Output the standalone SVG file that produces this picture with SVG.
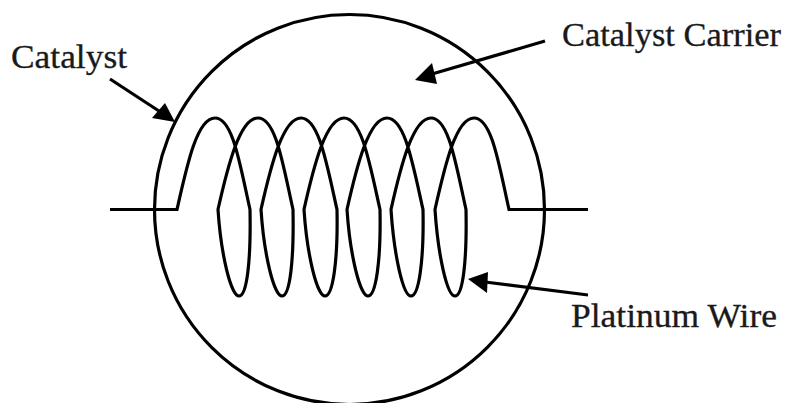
<svg xmlns="http://www.w3.org/2000/svg" width="791" height="403" viewBox="0 0 791 403">
<style>
.w{fill:none;stroke:#000;stroke-width:3.2}
.h{fill:#000}
text{font-family:"Liberation Serif",serif;font-size:33px;fill:#1a1a1a;stroke:#1a1a1a;stroke-width:.3}
</style>
<rect width="791" height="403" fill="#fff"/>
<g id="catalyst-carrier-body"><circle class="w" cx="349.5" cy="209.5" r="195"/></g>
<g id="platinum-wire"><path class="w" d="M110 209.5H177C187 165 197 118 215 118C233 118 240 165 250 209.5C251 260 247 296 239 296C231 296 221 255 218 209.5C228 165 240 118 258 118C276 118 283 165 293 209.5C294 260 290 296 282 296C274 296 264 255 261 209.5C271 165 283 118 301 118C319 118 327 165 337 209.5C338 260 333 296 325 296C317 296 307 255 304 209.5C314 165 326 118 344 118C362 118 370 165 380 209.5C381 260 376 296 368 296C360 296 350 255 347 209.5C357 165 369 118 387 118C405 118 413 165 423 209.5C424 260 419 296 411 296C403 296 394 255 391 209.5C401 165 413 118 431 118C449 118 456 165 466 209.5C467 260 463 296 455 296C447 296 438 255 435 209.5C445 165 456 118 474 118C492 118 499 165 509 209.5H588"/></g>
<g id="connectors">
<path class="w" d="M110 79L162 113"/><path class="h" d="M175 122L152 118L165 103Z"/>
<path class="w" d="M545 41L432 74"/><path class="h" d="M415 80L432 63L437 84Z"/>
<path class="w" d="M588 295L485 282"/><path class="h" d="M468 279L488 272L487 293Z"/>
</g>
<g id="label-catalyst"><text x="11" y="68" textLength="116" lengthAdjust="spacingAndGlyphs">Catalyst</text></g>
<g id="label-carrier"><text x="562" y="46" textLength="219" lengthAdjust="spacingAndGlyphs">Catalyst Carrier</text></g>
<g id="label-wire"><text x="571" y="327" textLength="206" lengthAdjust="spacingAndGlyphs">Platinum Wire</text></g>
</svg>
